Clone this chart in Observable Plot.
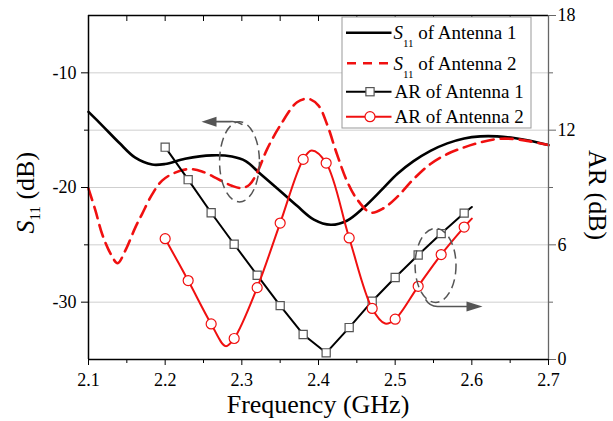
<!DOCTYPE html>
<html><head><meta charset="utf-8">
<script src="https://cdn.jsdelivr.net/npm/d3@7"></script>
<script src="https://cdn.jsdelivr.net/npm/@observablehq/plot@0.6"></script>
<style>body{margin:0;background:#fff}</style>
</head><body><div id="chart"></div>
<script>
// ---- data ----
const s11Freq1 = [2.100, 2.118, 2.140, 2.161, 2.183, 2.200, 2.226, 2.261, 2.287, 2.305, 2.324, 2.350, 2.372, 2.394, 2.416, 2.437, 2.459, 2.481, 2.503, 2.524, 2.546, 2.568, 2.590, 2.611, 2.633, 2.655, 2.676, 2.700];
const s11Ant1 = [-13.4, -14.6, -16.1, -17.4, -18.0, -17.95, -17.5, -17.2, -17.3, -17.7, -18.8, -20.3, -21.6, -22.8, -23.25, -22.9, -21.75, -20.3, -18.8, -17.7, -16.8, -16.15, -15.72, -15.54, -15.54, -15.68, -15.92, -16.3];
const s11Freq2 = [2.100, 2.109, 2.118, 2.129, 2.138, 2.148, 2.161, 2.170, 2.183, 2.196, 2.213, 2.231, 2.248, 2.270, 2.287, 2.300, 2.310, 2.320, 2.333, 2.350, 2.372, 2.387, 2.400, 2.411, 2.424, 2.437, 2.450, 2.468, 2.485, 2.503, 2.524, 2.546, 2.568, 2.590, 2.611, 2.633, 2.655, 2.676, 2.700];
const s11Ant2 = [-20.1, -22.0, -24.1, -25.8, -26.6, -25.5, -23.5, -22.3, -20.6, -19.4, -18.7, -18.4, -18.6, -19.3, -19.85, -20.05, -19.75, -18.7, -16.65, -14.6, -12.57, -12.27, -12.86, -14.46, -17.08, -19.41, -21.0, -22.19, -21.8, -20.8, -19.27, -17.95, -17.08, -16.5, -16.07, -15.77, -15.77, -15.98, -16.3];

const arFreq = [2.20, 2.23, 2.26, 2.29, 2.32, 2.35, 2.38, 2.41, 2.44, 2.47, 2.50, 2.53, 2.56, 2.59];
const arAnt1 = [11.11, 9.41, 7.68, 6.03, 4.41, 2.82, 1.31, 0.35, 1.67, 3.05, 4.29, 5.47, 6.59, 7.66];
const arAnt2 = [6.32, 4.13, 1.86, 1.10, 3.76, 7.14, 10.47, 10.28, 6.36, 2.67, 2.11, 3.83, 5.49, 6.93];
// extra curve points (no marker)
const ar1CurveFreq = [2.60];
const ar1Curve = [7.98];
const ar2CurveFreq = [2.279, 2.391, 2.487, 2.60];
const ar2Curve = [0.70, 10.94, 1.88, 7.37];

const xMajor = [2.1, 2.2, 2.3, 2.4, 2.5, 2.6, 2.7];
const xMinor = [2.15, 2.25, 2.35, 2.45, 2.55, 2.65];
const s11Major = [-10, -20, -30];
const s11Minor = [-15, -25];
const s11Grid = [-10, -15, -20, -25, -30];
const arMajor = [0, 6, 12, 18];
const arMinor = [3, 9, 15];
const legendLabels = ["of Antenna 1", "of Antenna 2", "AR of Antenna 1", "AR of Antenna 2"];
const xTitle = "Frequency (GHz)";
const arTitle = "AR (dB)";
// annotation ellipses (center freq, center S11, half width GHz, half height dB)
const ellFreq = [2.2976, 2.5533];
const ellS11 = [-17.8, -26.84];
const ellHalfW = [0.026, 0.0267];
const ellHalfH = [3.5, 3.23];

const RED = "#f01010";
const S_MIN = -35, S_MAX = -5, AR_MAX = 18;
const arToS = a => S_MIN + a * (S_MAX - S_MIN) / AR_MAX;
const sToAr = s => (s - S_MIN) * AR_MAX / (S_MAX - S_MIN);

const s11a = s11Freq1.map((f, i) => ({f, v: s11Ant1[i]}));
const s11b = s11Freq2.map((f, i) => ({f, v: s11Ant2[i]}));
const ar1Pts = arFreq.map((f, i) => ({f, v: arAnt1[i]}));
const ar2Pts = arFreq.map((f, i) => ({f, v: arAnt2[i]}));
const ar1Line = ar1Pts.concat(ar1CurveFreq.map((f, i) => ({f, v: ar1Curve[i]}))).sort((a, b) => a.f - b.f);
const ar2Line = ar2Pts.concat(ar2CurveFreq.map((f, i) => ({f, v: ar2Curve[i]}))).sort((a, b) => a.f - b.f);

const plot = Plot.plot({
  width: 613, height: 421,
  marginLeft: 88, marginRight: 65, marginTop: 15, marginBottom: 62,
  x: {domain: [2.1, 2.7]},
  y: {domain: [S_MIN, S_MAX]},
  style: {fontFamily: "'Liberation Serif', 'Times New Roman', serif", fontSize: "18px", background: "white", color: "black"},
  marks: [
    Plot.gridY(s11Grid, {stroke: "#cfcfcf", strokeOpacity: 1, strokeWidth: 1}),
    Plot.line(s11a, {x: "f", y: "v", stroke: "black", strokeWidth: 2.6, curve: "catmull-rom"}),
    Plot.line(s11b, {x: "f", y: "v", stroke: RED, strokeWidth: 2.6, strokeDasharray: "12,7", curve: "catmull-rom"}),
    Plot.line(ar1Line, {x: "f", y: d => arToS(d.v), stroke: "black", strokeWidth: 2}),
    Plot.dot(ar1Pts, {x: "f", y: d => arToS(d.v), symbol: "square", r: 4.6, stroke: "#555", fill: "white", strokeWidth: 1.2}),
    Plot.line(ar2Line, {x: "f", y: d => arToS(d.v), stroke: RED, strokeWidth: 2, curve: "catmull-rom"}),
    Plot.dot(ar2Pts, {x: "f", y: d => arToS(d.v), symbol: "circle", r: 5, stroke: RED, fill: "white", strokeWidth: 1.2}),
    // frame
    Plot.ruleY([S_MAX], {stroke: "black", strokeWidth: 1.3}),
    Plot.ruleX([2.7], {stroke: "#666", strokeWidth: 1.3}),
    Plot.ruleX([2.1], {stroke: "black", strokeWidth: 1.5}),
    Plot.ruleY([S_MIN], {stroke: "black", strokeWidth: 1.5}),
    // top inward ticks
    Plot.ruleX(xMajor.slice(1, -1).concat(xMinor), {y1: S_MAX, y2: S_MAX, insetBottom: -6, stroke: "black", strokeWidth: 1}),
    // axes
    Plot.axisX(xMajor, {tickSize: 6, tickPadding: 8, tickFormat: d => d.toFixed(1), label: null}),
    Plot.axisX(xMinor, {tickSize: 4, tickFormat: () => "", label: null}),
    Plot.axisY(s11Major, {tickSize: 7, tickPadding: 5, tickFormat: d => String(d), label: null}),
    Plot.axisY(s11Minor, {tickSize: 4, tickFormat: () => "", label: null}),
    Plot.axisY(arMajor.map(arToS), {anchor: "right", tickSize: 7, tickPadding: 2, stroke: "#666", tickFormat: s => String(Math.round(sToAr(s))), label: null}),
    Plot.axisY(arMinor.map(arToS), {anchor: "right", tickSize: 4, stroke: "#666", tickFormat: () => "", label: null})
  ]
});
document.getElementById("chart").appendChild(plot);

const svg = d3.select(plot);
const xs = plot.scale("x"), ys = plot.scale("y");
const X = v => xs.apply(v), Y = v => ys.apply(v);

// axis titles
svg.append("text").attr("x", X(2.4)).attr("y", 413).attr("text-anchor", "middle")
  .attr("font-size", 26).attr("fill", "black").text(xTitle);
const yl = svg.append("text").attr("transform", `translate(34,${Y(-20.5)}) rotate(-90)`)
  .attr("text-anchor", "middle").attr("font-size", 26).attr("fill", "black");
yl.append("tspan").attr("font-style", "italic").text("S");
yl.append("tspan").attr("font-size", 15).attr("dy", 6).text("11");
yl.append("tspan").attr("dy", -6).text(" (dB)");
svg.append("text").attr("transform", `translate(589,${Y(-20.7)}) rotate(90)`)
  .attr("text-anchor", "middle").attr("font-size", 26).attr("fill", "black").text(arTitle);

// annotations
const ann = svg.append("g").attr("stroke", "#555").attr("fill", "none");
ellFreq.forEach((f, i) => {
  const cx = X(f), cy = Y(ellS11[i]);
  const rx = X(f + ellHalfW[i]) - cx, ry = cy - Y(ellS11[i] + ellHalfH[i]);
  ann.append("ellipse").attr("cx", cx).attr("cy", cy).attr("rx", rx).attr("ry", ry)
    .attr("stroke-width", 1.5).attr("stroke-dasharray", "9,5");
  if (i === 0) {
    const t = cy - ry;
    ann.append("path").attr("stroke-width", 1.6)
      .attr("d", `M${cx + 3},${t + 3} Q${cx - 3},${t - 1} ${cx - 10},${t} L${cx - 24},${t}`);
    ann.append("path").attr("fill", "#555").attr("stroke", "none")
      .attr("d", `M${cx - 38},${t} L${cx - 23},${t - 5} L${cx - 23},${t + 5} Z`);
  } else {
    const b = cy + ry;
    ann.append("path").attr("stroke-width", 1.6)
      .attr("d", `M${cx - 10},${b - 3} Q${cx - 6},${b + 4} ${cx + 2},${b + 4} L${cx + 32},${b + 4}`);
    ann.append("path").attr("fill", "#555").attr("stroke", "none")
      .attr("d", `M${cx + 47},${b + 4} L${cx + 31},${b - 1} L${cx + 31},${b + 9} Z`);
  }
});

// legend
const lg = svg.append("g").attr("font-size", 19).attr("fill", "black").attr("text-anchor", "start");
lg.append("rect").attr("x", 342).attr("y", 17).attr("width", 189).attr("height", 111)
  .attr("fill", "white").attr("stroke", "#999").attr("stroke-width", 1);
const rowY = [32.7, 63.3, 91.7, 116.7];
const baseY = [38.5, 69.5, 98.3, 122.7];
const sx1 = 346, sx2 = 391.5, mx = 370;
lg.append("line").attr("x1", sx1).attr("x2", sx2).attr("y1", rowY[0]).attr("y2", rowY[0]).attr("stroke", "black").attr("stroke-width", 2.6);
lg.append("line").attr("x1", sx1 + 1).attr("x2", sx2).attr("y1", rowY[1]).attr("y2", rowY[1]).attr("stroke", RED).attr("stroke-width", 2.6).attr("stroke-dasharray", "9,7");
lg.append("line").attr("x1", sx1).attr("x2", sx2).attr("y1", rowY[2]).attr("y2", rowY[2]).attr("stroke", "black").attr("stroke-width", 2);
lg.append("rect").attr("x", mx - 4.1).attr("y", rowY[2] - 4.1).attr("width", 8.2).attr("height", 8.2).attr("fill", "white").attr("stroke", "#555").attr("stroke-width", 1.2);
lg.append("line").attr("x1", sx1).attr("x2", sx2).attr("y1", rowY[3]).attr("y2", rowY[3]).attr("stroke", RED).attr("stroke-width", 2);
lg.append("circle").attr("cx", mx).attr("cy", rowY[3]).attr("r", 5).attr("fill", "white").attr("stroke", RED).attr("stroke-width", 1.2);
[0, 1].forEach(i => {
  const t = lg.append("text").attr("x", 393.5).attr("y", baseY[i]).attr("text-anchor", "start");
  t.append("tspan").attr("font-style", "italic").text("S");
  t.append("tspan").attr("font-size", 11).attr("dy", 8).text("11");
  t.append("tspan").attr("dy", -8).text(" " + legendLabels[i]);
});
[2, 3].forEach(i => {
  lg.append("text").attr("x", 394.5).attr("y", baseY[i]).attr("text-anchor", "start").text(legendLabels[i]);
});
</script>
</body></html>
